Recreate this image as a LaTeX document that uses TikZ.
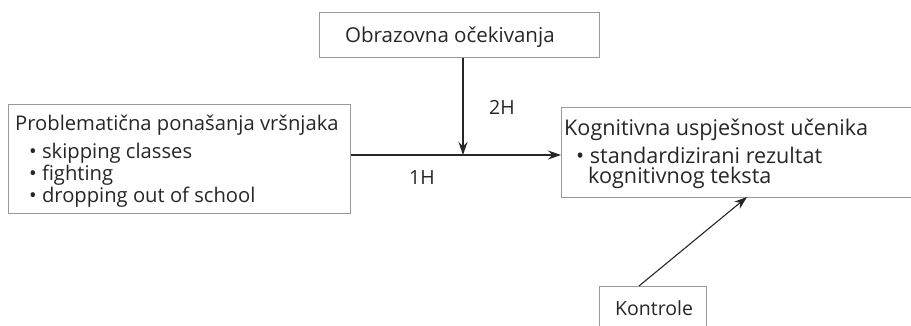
\documentclass[tikz,border=0pt]{standalone}
\usepackage{fontspec}
\setmainfont{Open Sans}
\usetikzlibrary{arrows.meta}
\begin{document}
\begin{tikzpicture}[x=1pt,y=-1pt,
  box/.style={draw=black!40, line width=0.9pt, inner sep=0pt, anchor=north west},
  txt/.style={inner sep=0pt, anchor=base west, text=black!85},
  tl/.style={txt, font=\fontsize{20.2}{22}\selectfont},
  tr/.style={txt, font=\fontsize{21.6}{22}\selectfont},
  to/.style={txt, font=\fontsize{20.5}{22}\selectfont},
  tk/.style={txt, font=\fontsize{19.5}{22}\selectfont},
  conn/.style={draw=black!85, line width=1.1pt, -{Stealth[length=13pt,width=9pt]}}]
\useasboundingbox (0,0) rectangle (911,326);
\clip (0,0) rectangle (911,326);
% boxes
\node[box, minimum width=342pt, minimum height=109pt] (pb) at (8,104) {};
\node[box, minimum width=280pt, minimum height=45pt] (ob) at (319,12) {};
\node[box, minimum width=380pt, minimum height=90pt] (rb) at (561,107) {};
\node[box, minimum width=107pt, minimum height=60pt] (kb) at (599,286) {};
% texts
\node[tl] (t1) at (15,131) {Problematična ponašanja vršnjaka};
\node[tl] (t2) at (29,159) {• skipping classes};
\node[tl] (t3) at (29,181) {• fighting};
\node[tl] (t4) at (29,203) {• dropping out of school};
\node[to] (t5) at (345,43) {Obrazovna očekivanja};
\node[tr] (t6) at (564,136) {Kognitivna uspješnost učenika};
\node[tr] (t7) at (576,164) {• standardizirani rezultat};
\node[tr] (t8) at (588,184) {kognitivnog teksta};
\node[tk] (t9) at (615,315) {Kontrole};
\node[tk] (h2) at (489,115) {2H};
\node[tk] (h1) at (409,185) {1H};
% connectors
\coordinate (j) at (463,155);
\coordinate (ke) at (747,197);
\coordinate (ks) at (639,286);
\draw[conn] (pb.east |- j) -- (rb.west |- j);
\draw[conn] (ob.south -| j) -- (j);
\draw[conn] (ks) -- (ke);
\end{tikzpicture}
\end{document}
